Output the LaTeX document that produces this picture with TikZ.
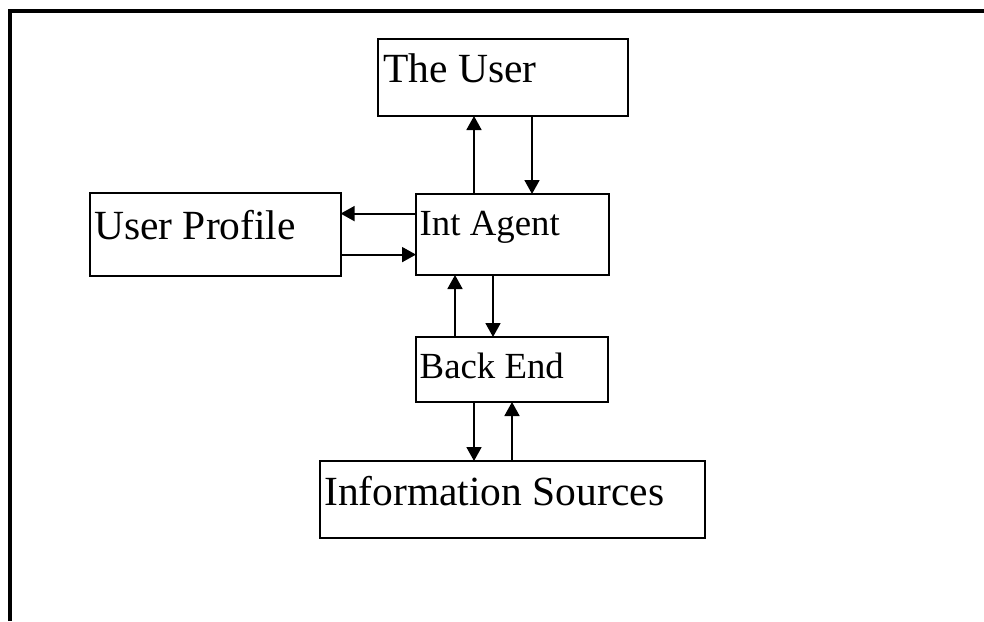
\documentclass[tikz,border=0pt]{standalone}
\usepackage{fontspec}
\setmainfont{Liberation Serif}
\usetikzlibrary{arrows.meta}
\begin{document}
\begin{tikzpicture}[x=1pt,y=-1pt,
  box/.style={draw=black,line width=1.9pt,rectangle,inner sep=0pt,outer sep=0pt,anchor=north west},
  bigtext/.style={anchor=base west,inner sep=0pt,font=\fontsize{41.5}{46}\selectfont},
  smalltext/.style={anchor=base west,inner sep=0pt,font=\fontsize{36.8}{41}\selectfont},
  arr/.style={line width=1.8pt,-{Triangle[length=14pt,width=15pt]}}]
  \useasboundingbox (0,0) rectangle (984,621);
  % page frame: top and left edges only
  \draw[line width=3.5pt] (10,621) -- (10,11) -- (984,11);

  % boxes
  \node[box,minimum width=250pt,minimum height=77pt] (user) at (378,39) {};
  \node[box,minimum width=251pt,minimum height=83pt] (prof) at (89.6,193.2) {};
  \node[box,minimum width=193pt,minimum height=81pt] (agent) at (416,194) {};
  \node[box,minimum width=192pt,minimum height=65pt] (back) at (416,337) {};
  \node[box,minimum width=385pt,minimum height=77pt] (info) at (320,461) {};

  % labels
  \node[bigtext] (tuser) at (383,82) {The User};
  \node[bigtext] (tprof) at (94,239) {User Profile};
  \node[smalltext] (tagent) at (419.5,235.4) {Int Agent};
  \node[smalltext] (tback) at (419.5,378) {Back End};
  \node[bigtext] (tinfo) at (324,505.7) {Information Sources};

  % connector positions
  \coordinate (ua) at (474,0);
  \coordinate (ub) at (532,0);
  \coordinate (pa) at (0,213.6);
  \coordinate (pb) at (0,254.6);
  \coordinate (ba) at (455,0);
  \coordinate (bb) at (493,0);
  \coordinate (ia) at (474,0);
  \coordinate (ib) at (512,0);

  % connectors
  \draw[arr] (ua |- agent.north) -- (ua |- user.south);
  \draw[arr] (ub |- user.south) -- (ub |- agent.north);
  \draw[arr] (agent.west |- pa) -- (prof.east |- pa);
  \draw[arr] (prof.east |- pb) -- (agent.west |- pb);
  \draw[arr] (ba |- back.north) -- (ba |- agent.south);
  \draw[arr] (bb |- agent.south) -- (bb |- back.north);
  \draw[arr] (ia |- back.south) -- (ia |- info.north);
  \draw[arr] (ib |- info.north) -- (ib |- back.south);
\end{tikzpicture}
\end{document}
